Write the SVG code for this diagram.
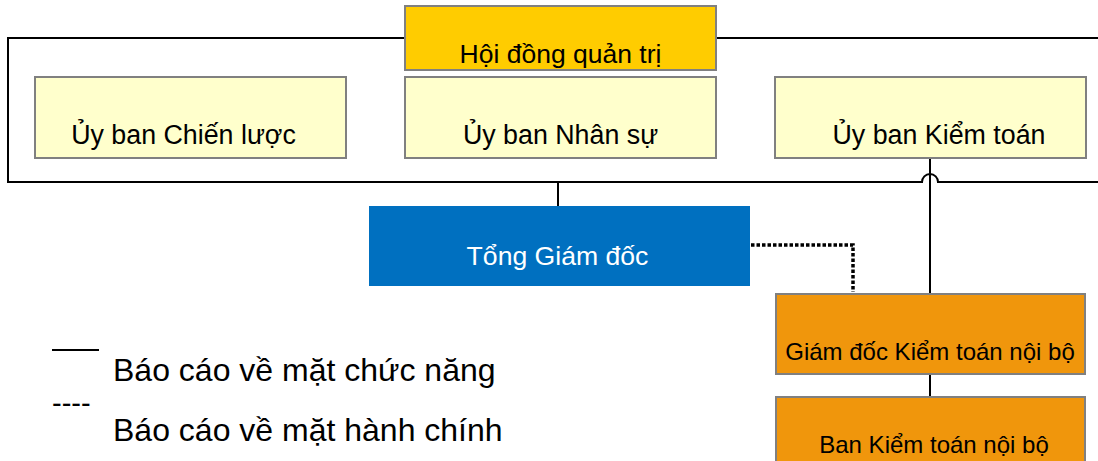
<svg xmlns="http://www.w3.org/2000/svg" width="1098" height="461" viewBox="0 0 1098 461">
<style>
text{font-family:"Liberation Sans",Arial,sans-serif;fill:#000}
.board{fill:#FFCC00;stroke:#808080;stroke-width:2}
.comm{fill:#FFFFCC;stroke:#808080;stroke-width:2}
.ceo{fill:#0070C0}
.audit{fill:#F0960C;stroke:#808080;stroke-width:2}
.line{fill:none;stroke:#000;stroke-width:2}
.dot{fill:none;stroke:#000;stroke-width:3.5;stroke-dasharray:3.5 2}
</style>
<rect width="1098" height="461" fill="#fff"/>
<g id="connectors">
<path class="line" d="M1100 38 H8 V182 H922 A8 8 0 0 1 938 182 H1100"/>
<line class="line" x1="558" y1="182" x2="558" y2="206"/>
<line class="line" x1="930" y1="158" x2="930" y2="294"/>
<line class="line" x1="930" y1="374" x2="930" y2="397"/>
<path class="dot" d="M751 245 H853 V292"/>
</g>
<g id="hdqt">
<rect class="board" x="405" y="6" width="311" height="64"/>
<text x="560.5" y="63" font-size="26.5" text-anchor="middle">Hội đồng quản trị</text>
</g>
<g id="ub-chien-luoc">
<rect class="comm" x="35" y="77" width="311" height="81"/>
<text x="183.5" y="144" font-size="26.8" text-anchor="middle">Ủy ban Chiến lược</text>
</g>
<g id="ub-nhan-su">
<rect class="comm" x="405" y="77" width="311" height="81"/>
<text x="560.5" y="144" font-size="26.8" text-anchor="middle">Ủy ban Nhân sự</text>
</g>
<g id="ub-kiem-toan">
<rect class="comm" x="775" y="77" width="311" height="81"/>
<text x="939" y="144" font-size="26.8" text-anchor="middle">Ủy ban Kiểm toán</text>
</g>
<g id="tgd">
<rect class="ceo" x="369" y="206" width="381" height="80"/>
<text x="557.5" y="265" font-size="26.6" text-anchor="middle" style="fill:#fff">Tổng Giám đốc</text>
</g>
<g id="gd-ktnb">
<rect class="audit" x="776" y="294" width="309" height="80"/>
<text x="930" y="360" font-size="24" text-anchor="middle">Giám đốc Kiểm toán nội bộ</text>
</g>
<g id="ban-ktnb">
<rect class="audit" x="776" y="397" width="309" height="70"/>
<text x="934" y="453" font-size="24" text-anchor="middle">Ban Kiểm toán nội bộ</text>
</g>
<g id="legend">
<line x1="52" y1="350" x2="99" y2="350" stroke="#000" stroke-width="2"/>
<text x="113" y="381" font-size="32">Báo cáo về mặt chức năng</text>
<text x="52" y="413" font-size="29">----</text>
<text x="113" y="441" font-size="32">Báo cáo về mặt hành chính</text>
</g>
</svg>
